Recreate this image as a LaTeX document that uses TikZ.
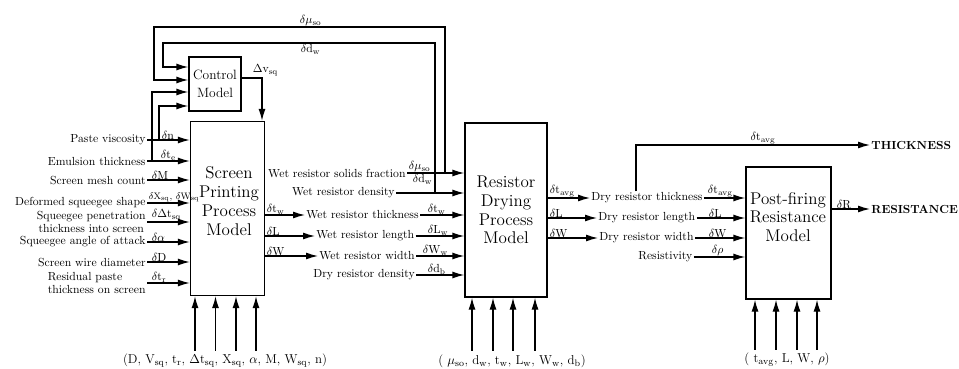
\documentclass[tikz,border=0pt]{standalone}
\usepackage{amsmath,amssymb}
\usepackage{tikz}
\usetikzlibrary{arrows.meta,positioning,calc}
\newcommand{\dl}[1]{$\delta\mathrm{#1}$}
\newcommand{\lblf}{\fontsize{10}{10.5}\selectfont}
\newcommand{\boxf}{\fontsize{14.5}{16}\selectfont}
\tikzset{
  arr/.style={-{Latex[length=3.6mm,width=2.1mm]}, line width=1.1pt},
  mbox/.style={draw, line width=1.1pt, inner sep=0pt, align=center, font=\boxf},
  txt/.style={font=\lblf, inner sep=1pt},
  dlab/.style={font=\lblf, inner sep=0.5pt, anchor=south west},
  btm/.style={font=\fontsize{11}{12}\selectfont, inner sep=1pt},
}

\begin{document}
\begin{tikzpicture}[x=0.03cm, y=-0.03cm, font=\lblf]
  \useasboundingbox (0,0) rectangle (959,369);
  \node[mbox, minimum width=2.22cm, minimum height=5.22cm] (sp) at (227.5,208.5) {};
  \node[font=\boxf, align=center] (sptx) at (229,201) {Screen\\Printing\\Process\\Model};
  \node[mbox, font=\fontsize{11.5}{15}\selectfont, minimum width=1.56cm, minimum height=1.62cm] (ctrl) at (215,84) {Control\\Model};
  \node[mbox, minimum width=2.46cm, minimum height=5.22cm] (dr) at (506,210) {Resistor\\Drying\\Process\\Model};
  \node[mbox, minimum width=2.55cm, minimum height=3.96cm] (pf) at (788.5,233) {};
  \node[font=\boxf, align=center] (pftx) at (788,217) {Post-firing\\Resistance\\Model};
  \node[txt, anchor=east] (pv) at (147,140) {Paste viscosity};
  \node[txt, anchor=east] (em) at (147,161) {Emulsion thickness};
  \node[txt, anchor=east] (smc) at (147,180) {Screen mesh count};
  \node[txt, anchor=east] (dss) at (147,203) {Deformed squeegee shape};
  \node[txt, anchor=east, align=center] (spn) at (147,222) {Squeegee penetration\\thickness into screen};
  \node[txt, anchor=east] (saa) at (147,242) {Squeegee angle of attack};
  \node[txt, anchor=east] (swd) at (147,262) {Screen wire diameter};
  \node[txt, anchor=east, align=left] (rpt) at (147,283) {Residual paste\\thickness on screen};
  \foreach \n in {pv,em,smc,dss,spn,saa,swd,rpt}
    \draw[arr] (\n.east) -- (\n.east -| sp.west);
  \node[dlab] (dn) at (161,140) {\dl{n}};
  \node[dlab] (dte) at (160,161) {\dl{t_e}};
  \node[dlab] (dM) at (151,180) {\dl{M}};
  \node[dlab, font=\fontsize{8.5}{9}\selectfont] (dxw) at (148,203) {\dl{X_{sq}}, \dl{W_{sq}}};
  \node[dlab] (ddt) at (151,222) {$\delta\Delta\mathrm{t_{sq}}$};
  \node[dlab] (da) at (151,242) {$\delta\alpha$};
  \node[dlab] (dD) at (151,262) {\dl{D}};
  \node[dlab] (dtr) at (151,283) {\dl{t_r}};
  \draw[arr] (pv.east -| 159,0) |- (ctrl.west |- 0,106);
  \draw[arr] (em.east -| 152,0) |- (ctrl.west |- 0,92);
  \draw[arr] (ctrl.east |- 0,78) -| (sp.north -| 262,0);
  \node[dlab] (dv) at (252,77) {$\Delta\mathrm{v_{sq}}$};
  \node[txt, anchor=east] (wsf) at (407,173) {Wet resistor solids fraction};
  \node[txt, anchor=east] (wd) at (396,193) {Wet resistor density};
  \node[txt, anchor=west] (wt) at (305,215) {Wet resistor thickness};
  \node[txt, anchor=west] (wl) at (315,236) {Wet resistor length};
  \node[txt, anchor=west] (ww) at (318,256) {Wet resistor width};
  \node[txt, anchor=west] (dd) at (312,275) {Dry resistor density};
  \foreach \n in {wt,wl,ww}
    \draw[arr] (sp.east |- \n.west) -- (\n.west);
  \foreach \n in {wsf,wd,wt,wl,ww,dd}
    \draw[arr] (\n.east) -- (\n.east -| dr.west);
  \node[dlab] (otw) at (266,215) {\dl{t_w}};
  \node[dlab] (oL) at (266,236) {\dl{L}};
  \node[dlab] (oW) at (266,256) {\dl{W}};
  \draw[arr] (wsf.east -| 445,0) |- (154,27) |- (ctrl.west |- 0,80);
  \draw[arr] (wd.east -| 435,0) |- (163,43) |- (ctrl.west |- 0,67);
  \node[dlab] (tmu) at (299,27) {$\delta\mu_{\mathrm{so}}$};
  \node[dlab, anchor=north west] (tdw) at (300,44) {\dl{d_w}};
  \node[dlab] (imu) at (408,173) {$\delta\mu_{\mathrm{so}}$};
  \node[dlab, anchor=north west] (idw) at (412,174) {\dl{d_w}};
  \node[dlab] (itw) at (427,215) {\dl{t_w}};
  \node[dlab] (iLw) at (427,236) {\dl{L_w}};
  \node[dlab] (iWw) at (422,256) {\dl{W_w}};
  \node[dlab] (idb) at (427,275) {\dl{d_b}};
  \node[txt, anchor=west] (dt) at (590,198) {Dry resistor thickness};
  \node[txt, anchor=west] (dln) at (597,218) {Dry resistor length};
  \node[txt, anchor=west] (dwd) at (598,238) {Dry resistor width};
  \node[txt, anchor=west] (rs) at (637,257) {Resistivity};
  \foreach \n in {dt,dln,dwd}
    \draw[arr] (dr.east |- \n.west) -- (\n.west);
  \foreach \n in {dt,dln,dwd,rs}
    \draw[arr] (\n.east) -- (\n.east -| pf.west);
  \node[dlab] (otavg) at (549,198) {\dl{t_{avg}}};
  \node[dlab] (odL) at (549,218) {\dl{L}};
  \node[dlab] (odW) at (549,238) {\dl{W}};
  \node[dlab] (ptavg) at (707,198) {\dl{t_{avg}}};
  \node[dlab] (pL) at (708,218) {\dl{L}};
  \node[dlab] (pW) at (708,238) {\dl{W}};
  \node[dlab] (prho) at (711,257) {$\delta\rho$};
  \node[txt, anchor=west, font=\lblf\bfseries] (res) at (870,209) {RESISTANCE};
  \node[txt, anchor=west, font=\lblf\bfseries] (thk) at (870,145) {THICKNESS};
  \draw[arr] (pf.east |- res.west) -- (res.west);
  \draw[arr] (dt.north -| 636,0) |- (thk.west);
  \node[dlab] (dR) at (836,209) {\dl{R}};
  \node[dlab, anchor=south] (ttavg) at (763,145) {\dl{t_{avg}}};
  \node[btm] (bsp) at (225,361) {(D, V$_\mathrm{sq}$, t$_\mathrm{r}$, $\Delta$t$_\mathrm{sq}$, X$_\mathrm{sq}$, $\alpha$, M, W$_\mathrm{sq}$, n)};
  \node[btm] (bdr) at (512,361) {( $\mu_\mathrm{so}$, d$_\mathrm{w}$, t$_\mathrm{w}$, L$_\mathrm{w}$, W$_\mathrm{w}$, d$_\mathrm{b}$)};
  \node[btm] (bpf) at (787,360) {( t$_\mathrm{avg}$, L, W, $\rho$)};
  \foreach \x in {195,215.5,236,256}
    \draw[arr, shorten <=2pt] (\x,0 |- bsp.north) -- (\x,0 |- sp.south);
  \foreach \x in {472,493,513,535}
    \draw[arr, shorten <=2pt] (\x,0 |- bdr.north) -- (\x,0 |- dr.south);
  \foreach \x in {755,776,797,817}
    \draw[arr, shorten <=2pt] (\x,0 |- bpf.north) -- (\x,0 |- pf.south);
\end{tikzpicture}
\end{document}
